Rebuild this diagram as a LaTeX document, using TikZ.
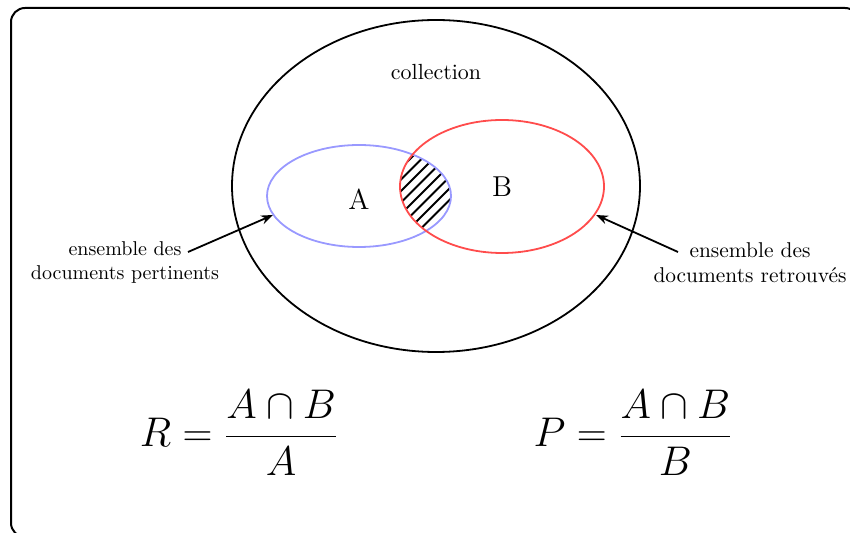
\documentclass[tikz,border=0pt]{standalone}
\usetikzlibrary{arrows.meta}
\begin{document}
\begin{tikzpicture}[x=0.5pt,y=-0.5pt,
  frame/.style={line width=1pt,rounded corners=7pt},
  setline/.style={line width=0.9pt},
  lab/.style={align=center,inner sep=0pt},
  pointer/.style={line width=0.9pt,-{Stealth[length=6pt,width=4.5pt]}},
  hatch/.style={line width=1pt}]
\useasboundingbox (0,0) rectangle (850,533);
\draw[frame] (11,8) rectangle (859,537);
% intersection hatching
\begin{scope}
  \clip (359,196) ellipse [x radius=46pt, y radius=25.5pt];
  \clip (502,186.5) ellipse [x radius=51pt, y radius=33.25pt];
  \foreach \i in {-10,...,14}{
    \draw[hatch] (332+11.5*\i,260) -- (332+11.5*\i+120,140);
  }
\end{scope}
\draw[setline] (436,186) ellipse [x radius=102pt, y radius=83pt];
\draw[setline,blue!40] (359,196) ellipse [x radius=46pt, y radius=25.5pt];
\draw[setline,red!70] (502,186.5) ellipse [x radius=51pt, y radius=33.25pt];
\node[font=\fontsize{10.95}{13.6}\selectfont] (coll) at (436,72) {collection};
\node[font=\Large] (A) at (359,199) {A};
\node[font=\Large] (B) at (502,187) {B};
\node[lab] (pert) at (125,263) {ensemble des\\documents pertinents};
\node[lab,font=\fontsize{10.7}{12.4}\selectfont] (retr) at (750,263) {ensemble des\\documents retrouvés};
\coordinate (ps) at (188,252);
\coordinate (pe) at (273,215);
\coordinate (rs) at (678,252);
\coordinate (re) at (596,215);
\draw[pointer] (ps) -- (pe);
\draw[pointer] (rs) -- (re);
\node[font=\huge] (R) at (239,433) {$\displaystyle R=\frac{A\cap B}{A}$};
\node[font=\huge] (P) at (633,433) {$\displaystyle P=\frac{A\cap B}{B}$};
\end{tikzpicture}
\end{document}
